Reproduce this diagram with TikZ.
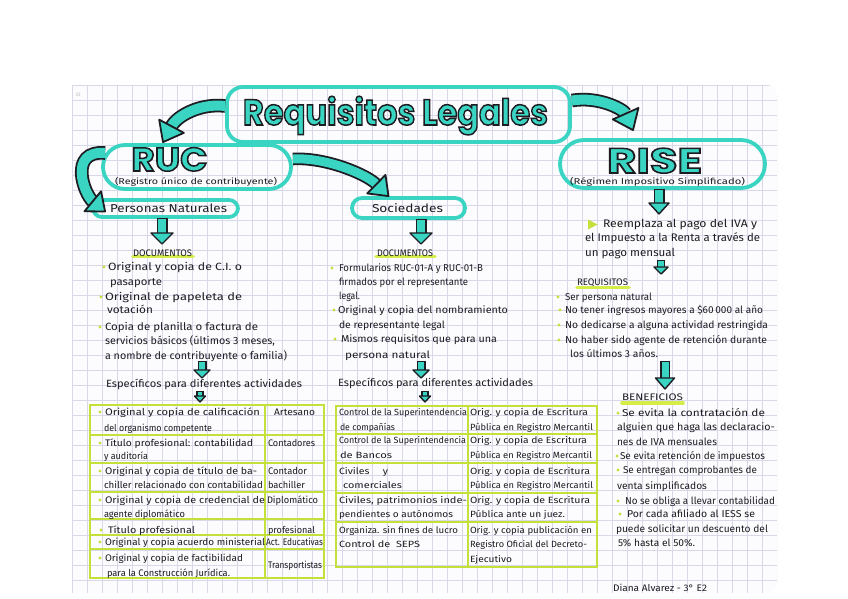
\documentclass[tikz,border=0pt]{standalone}
\usepackage{fontspec}
\usepackage{graphicx}
\usetikzlibrary{calc}
\setmainfont{Fira Sans}
\newfontfamily\headfont{Poppins}
\definecolor{aqua}{RGB}{58,212,194}
\definecolor{ink}{RGB}{28,28,34}
\definecolor{lime}{RGB}{196,224,58}
\definecolor{hilite}{RGB}{214,236,72}
\definecolor{gridc}{RGB}{216,216,232}
\definecolor{paper}{RGB}{252,252,254}
\newcommand\outl[1]{\special{pdf:literal direct 2 Tr 1.5 w 0.11 0.11 0.13 RG}#1\special{pdf:literal direct 0 Tr 0.4 w}}
\newsavebox\ttlbox
\newsavebox\rucbox
\newsavebox\risebox
\newcommand\TL[6][]{\node[txt,#1] (#2) at (#3,#4) {\resizebox{#5pt}{\height}{#6}};}
\newcommand\cArrow[7]{%
  \coordinate (ta) at (#1);
  \coordinate (tz) at (#4);
  \coordinate (hb) at ($(tz)!#6!(#3)$);
  \pgfmathsetlengthmacro\blw{#5+3.6pt}%
  \draw[line width=\blw, draw=ink] (ta) .. controls (#2) and (#3) .. (hb);
  \draw[line width=#5, draw=aqua] (ta) .. controls (#2) and (#3) .. (hb);
  \coordinate (hl) at ($(hb)!#7!90:(tz)$);
  \coordinate (hr) at ($(hb)!#7!-90:(tz)$);
  \filldraw[fill=aqua, draw=ink, line width=1.8pt, line join=round] (hl) -- (tz) -- (hr) -- cycle;
}
\newcommand\sArrow[5]{%
  \coordinate (hb) at ($(#2)!#4!(#1)$);
  \coordinate (hs) at ($(#1)!-1.4pt!(hb)$);
  \pgfmathsetlengthmacro\blw{#3+3pt}%
  \draw[line width=\blw, draw=ink] (hs) -- (hb);
  \draw[line width=#3, draw=aqua] (#1) -- (hb);
  \coordinate (hl) at ($(hb)!#5!90:(#2)$);
  \coordinate (hr) at ($(hb)!#5!-90:(#2)$);
  \filldraw[fill=aqua, draw=ink, line width=1.4pt, line join=round] (hl) -- (#2) -- (hr) -- cycle;
}
\begin{document}
\sbox\ttlbox{\color{aqua}\resizebox{305pt}{\height}{\headfont\bfseries\fontsize{36}{40}\selectfont\outl{Requisitos Legales}}}%
\sbox\rucbox{\color{aqua}\resizebox{76pt}{\height}{\headfont\bfseries\fontsize{33}{36}\selectfont\outl{RUC}}}%
\sbox\risebox{\color{aqua}\resizebox{95pt}{\height}{\headfont\bfseries\fontsize{35}{38}\selectfont\outl{RISE}}}%
\dp\ttlbox=0pt \dp\rucbox=0pt \dp\risebox=0pt
\begin{tikzpicture}[x=1pt,y=-1pt,
  txt/.style={anchor=base west, inner sep=0pt, outer sep=0pt, text=ink, font=\fontsize{10.5}{12}\selectfont},
  ft8/.style={font=\fontsize{8.5}{10}\selectfont},
  ft85/.style={font=\fontsize{9}{10}\selectfont},
  ft9/.style={font=\fontsize{9.5}{11}\selectfont},
  ft95/.style={font=\fontsize{10}{11}\selectfont},
  ft105/.style={font=\fontsize{11}{12}\selectfont},
  ft11/.style={font=\fontsize{11.5}{13}\selectfont},
  tbox/.style={draw=aqua, line width=3.8pt, inner sep=0pt},
  tline/.style={draw=lime, line width=1.8pt},
  hl/.style={draw=hilite, line width=3.6pt, line cap=round},
  dot/.style={fill=lime}]
\useasboundingbox (0,0) rectangle (848,599);
\fill[white] (0,0) rectangle (848,599);
% paper and grid
\begin{scope}
  \clip[rounded corners=10pt] (40,85) rectangle (777,593);
  \fill[paper] (72,85) rectangle (777,593);
  \foreach \i in {0,...,46} \draw[gridc, line width=0.8pt] ({87+15*\i},85) -- ({87+15*\i},593);
  \foreach \j in {0,...,34} \draw[gridc, line width=0.8pt] (72,{85+15*\j}) -- (777,{85+15*\j});
  \draw[gridc, line width=0.8pt] (72,85) -- (72,593);
\end{scope}
\node[inner sep=0pt, text=gray!55, font=\fontsize{5}{6}\selectfont] (pgnum) at (78,95) {33};
% highlights
\draw[hl] (133,256.5) -- (193,256.5);
\draw[hl] (376,256.5) -- (435,256.5);
\draw[hl] (577,287.5) -- (629,287.5);
\draw[hl] (622,403) -- (683,403);
% tables
\draw[tline] (90,405) rectangle (324,578);
\draw[tline] (265,405) -- (265,578);
\foreach \y in {435,463,492,519,535,549} \draw[tline] (90,\y) -- (324,\y);
\draw[tline] (336,406) rectangle (597,567);
\draw[tline] (468,406) -- (468,567);
\foreach \y in {434,463,493,522} \draw[tline] (336,\y) -- (597,\y);
% boxes
\node[tbox, rounded corners=16pt, minimum width=343pt, minimum height=55pt] (titleBox) at (398.5,114.5) {};
\node[tbox, rounded corners=22pt, minimum width=188pt, minimum height=44pt] (rucBox) at (197,167) {};
\node[tbox, rounded corners=24pt, minimum width=205pt, minimum height=48pt] (riseBox) at (662.5,164) {};
\node[tbox, rounded corners=9pt, minimum width=145pt, minimum height=17pt] (perBox) at (165.5,208.5) {};
\node[tbox, rounded corners=10pt, minimum width=113pt, minimum height=20pt] (socBox) at (408.5,208) {};
% big arrows
\cArrow{[yshift=8.5pt]titleBox.west}{200,103}{177,116}{[xshift=-34pt,yshift=1pt]rucBox.north}{10pt}{18pt}{14pt}
\cArrow{[xshift=4pt,yshift=14pt]rucBox.west}{68,150}{84,194}{[xshift=14pt,yshift=-3pt]perBox.west}{10pt}{16pt}{13pt}
\cArrow{[yshift=8pt]rucBox.east}{325,157}{366,174}{[xshift=-20pt]socBox.north}{9pt}{17pt}{13pt}
\cArrow{[yshift=14pt]titleBox.east}{600,96}{624,110}{[xshift=-29.5pt,yshift=8pt]riseBox.north}{10pt}{18pt}{14pt}
% small arrows
\coordinate (d1a) at (162,219); \coordinate (d1b) at (162,244);
\coordinate (d2a) at (421,220); \coordinate (d2b) at (421,244);
\coordinate (d3a) at (659,190); \coordinate (d3b) at (659,214);
\coordinate (d4a) at (661,261); \coordinate (d4b) at (661,274);
\coordinate (d5a) at (665,362); \coordinate (d5b) at (665,389);
\coordinate (d6a) at (202,362); \coordinate (d6b) at (202,378);
\coordinate (d7a) at (421,362); \coordinate (d7b) at (421,378);
\coordinate (d8a) at (200,392); \coordinate (d8b) at (200,402);
\coordinate (d9a) at (425,392); \coordinate (d9b) at (425,402);
\sArrow{d1a}{d1b}{8pt}{11pt}{11pt}
\sArrow{d2a}{d2b}{8pt}{11pt}{11pt}
\sArrow{d3a}{d3b}{8pt}{11pt}{10pt}
\sArrow{d4a}{d4b}{5.5pt}{7pt}{7pt}
\sArrow{d5a}{d5b}{7pt}{11pt}{9.5pt}
\sArrow{d6a}{d6b}{6pt}{8pt}{8pt}
\sArrow{d7a}{d7b}{6pt}{8pt}{8pt}
\sArrow{d8a}{d8b}{4.5pt}{6pt}{5.5pt}
\sArrow{d9a}{d9b}{4.5pt}{6pt}{5.5pt}
% headings
\node[anchor=base, inner sep=0pt] (titleT) at (395.5,125) {\usebox\ttlbox};
\node[anchor=base, inner sep=0pt] (rucT) at (169.5,171) {\usebox\rucbox};
\node[anchor=base, inner sep=0pt] (riseT) at (654.5,173) {\usebox\risebox};
\TL[ft8]{rucS}{115}{184.5}{162}{(Registro único de contribuyente)}
\TL[ft8]{riseS}{570}{184}{175}{(Régimen Impositivo Simplificado)}
\TL[ft11]{perT}{110}{212.5}{117}{Personas Naturales}
\TL[ft11]{socT}{372}{212.5}{71}{Sociedades}
% left documents
\TL[ft9]{docL}{133}{256.5}{59}{DOCUMENTOS}
\TL{L1}{108}{270}{134}{Original y copia de C.I. o}
\TL{L2}{110}{285}{52}{pasaporte}
\TL{L3}{105}{300}{137}{Original de papeleta de}
\TL{L4}{107}{313}{46}{votación}
\TL{L5}{105}{330}{153}{Copia de planilla o factura de}
\TL{L6}{105}{344}{170}{servicios básicos (últimos 3 meses,}
\TL{L7}{105}{359}{182}{a nombre de contribuyente o familia)}
\TL{espL}{106}{387}{196}{Específicos para diferentes actividades}
% middle documents
\TL[ft9]{docM}{377}{256.5}{56}{DOCUMENTOS}
\TL[ft95]{M1}{339}{271}{144}{Formularios RUC-01-A y RUC-01-B}
\TL[ft95]{M2}{339}{285}{129}{firmados por el representante}
\TL[ft95]{M3}{339}{299}{21}{legal.}
\TL[ft95]{M4}{338}{313}{170}{Original y copia del nombramiento}
\TL[ft95]{M5}{339}{328}{106}{de representante legal}
\TL[ft95]{M6}{341}{342}{156}{Mismos requisitos que para una}
\TL[ft95]{M7}{345}{358}{85}{persona natural}
\TL{espM}{338}{386}{195}{Específicos para diferentes actividades}
% right column
\TL[ft105]{R1}{603}{227.5}{154}{Reemplaza al pago del IVA y}
\TL[ft105]{R2}{585}{241.5}{175}{el Impuesto a la Renta a través de}
\TL[ft105]{R3}{585}{256.5}{90}{un pago mensual}
\TL[ft9]{reqT}{577}{285.5}{51}{REQUISITOS}
\TL[ft95]{Q1}{565}{300}{87}{Ser persona natural}
\TL[ft95]{Q2}{565}{313.5}{198}{No tener ingresos mayores a \$60\,000 al año}
\TL[ft95]{Q3}{565}{328}{203}{No dedicarse a alguna actividad restringida}
\TL[ft95]{Q4}{565}{343}{202}{No haber sido agente de retención durante}
\TL[ft95]{Q5}{570}{357}{88}{los últimos 3 años.}
\TL[ft9]{benT}{622}{400.5}{61}{BENEFICIOS}
\TL[ft95]{B1}{622}{416}{143}{Se evita la contratación de}
\TL[ft95]{B2}{617}{430}{158}{alguien que haga las declaracio-}
\TL[ft95]{B3}{617}{445}{100}{nes de IVA mensuales}
\TL[ft95]{B4}{620}{459}{145}{Se evita retención de impuestos}
\TL[ft95]{B5}{623}{473}{134}{Se entregan comprobantes de}
\TL[ft95]{B6}{617}{489}{90}{venta simplificados}
\TL[ft95]{B7}{625}{504}{150}{No se obliga a llevar contabilidad}
\TL[ft95]{B8}{627}{517}{128}{Por cada afiliado al IESS se}
\TL[ft95]{B9}{616}{532}{152}{puede solicitar un descuento del}
\TL[ft95]{B10}{618}{546}{77}{5\% hasta el 50\%.}
\TL[ft9]{sig}{613}{591}{94}{Diana Alvarez - 3° E2}
% left table
\TL[ft9]{T1a}{105}{415}{155}{Original y copia de calificación}
\TL[ft9]{T1b}{104}{431}{108}{del organismo competente}
\TL[ft9]{T1c}{274}{415}{41}{Artesano}
\TL[ft9]{T2a}{105}{446}{148}{Título profesional: contabilidad}
\TL[ft9]{T2b}{104}{459}{44}{y auditoría}
\TL[ft9]{T2c}{268}{446}{47}{Contadores}
\TL[ft9]{T3a}{105}{474}{152}{Original y copia de título de ba-}
\TL[ft9]{T3b}{104}{488}{159}{chiller relacionado con contabilidad}
\TL[ft9]{T3c}{268}{474}{39}{Contador}
\TL[ft9]{T3d}{268}{488}{37}{bachiller}
\TL[ft9]{T4a}{105}{503}{160}{Original y copia de credencial de}
\TL[ft9]{T4b}{104}{517}{81}{agente diplomático}
\TL[ft9]{T4c}{267}{503}{51}{Diplomático}
\TL[ft9]{T5a}{108}{533}{87}{Título profesional}
\TL[ft9]{T5c}{268}{533}{47}{profesional}
\TL[ft9]{T6a}{105}{545}{160}{Original y copia acuerdo ministerial}
\TL[ft9]{T6c}{266}{545}{57}{Act. Educativas}
\TL[ft9]{T7a}{105}{561}{138}{Original y copia de factibilidad}
\TL[ft9]{T7b}{107}{576}{123}{para la Construcción Jurídica.}
\TL[ft9]{T7c}{268}{568}{54}{Transportistas}
% middle table
\TL[ft85]{S1a}{339}{415}{128}{Control de la Superintendencia}
\TL[ft85]{S1b}{340}{430}{55}{de compañías}
\TL[ft85]{S1c}{470}{415}{118}{Orig. y copia de Escritura}
\TL[ft85]{S1d}{470}{430}{123}{Pública en Registro Mercantil}
\TL[ft85]{S2a}{339}{443}{127}{Control de la Superintendencia}
\TL[ft85]{S2b}{340}{458}{52}{de Bancos}
\TL[ft85]{S2c}{470}{443}{117}{Orig. y copia de Escritura}
\TL[ft85]{S2d}{470}{458}{122}{Pública en Registro Mercantil}
\TL[ft85]{S3a}{339}{474}{49}{Civiles \quad y}
\TL[ft85]{S3b}{343}{488}{59}{comerciales}
\TL[ft85]{S3c}{470}{474}{120}{Orig. y copia de Escritura}
\TL[ft85]{S3d}{470}{488}{123}{Pública en Registro Mercantil}
\TL[ft85]{S4a}{339}{503}{128}{Civiles, patrimonios inde-}
\TL[ft85]{S4b}{339}{517}{114}{pendientes o autónomos}
\TL[ft85]{S4c}{470}{503}{120}{Orig. y copia de Escritura}
\TL[ft85]{S4d}{470}{517}{95}{Pública ante un juez.}
\TL[ft85]{S5a}{339}{533}{119}{Organiza. sin fines de lucro}
\TL[ft85]{S5b}{339}{547}{81}{Control de \ SEPS}
\TL[ft85]{S5c}{470}{533}{122}{Orig. y copia publicación en}
\TL[ft85]{S5d}{470}{547}{117}{Registro Oficial del Decreto-}
\TL[ft85]{S5e}{470}{562}{42}{Ejecutivo}
% bullets
\foreach \p in {(104,267),(101,297),(100,327),(332,268),(334,310),(335,339),
  (558,297),(560,310),(559,325),(559,340),(618,413),(617,456),(618,470),(618,501),(620,514),
  (100,412),(100,443),(100,471),(100,500),(101,530),(100,542),(100,558)}
  \fill[dot] \p circle[radius=1.7pt];
\fill[lime] (588,219.5) -- (597.5,224.5) -- (588,229.5) -- cycle;
\end{tikzpicture}
\end{document}
